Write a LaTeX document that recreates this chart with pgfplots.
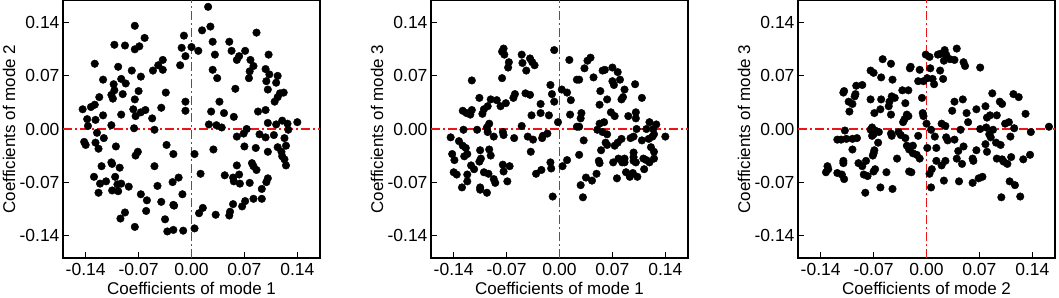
\documentclass[border=0pt]{standalone}
\usepackage{fontspec}
\setmainfont{Liberation Sans}
\usepackage{pgfplots}
\pgfplotsset{compat=1.18}
\definecolor{refred}{RGB}{235,20,25}

\pgfplotsset{
  modeaxis/.style={
    anchor=south west,
    width=257pt, height=258pt, scale only axis,
    xmin=-0.17, xmax=0.17, ymin=-0.17, ymax=0.17,
    xtick={-0.14,-0.07,0,0.07,0.14},
    ytick={-0.14,-0.07,0,0.07,0.14},
    xticklabels={-0.14,-0.07,0.00,0.07,0.14},
    yticklabels={-0.14,-0.07,0.00,0.07,0.14},
    tick align=inside, xtick pos=bottom, ytick pos=left,
    major tick length=6pt,
    tick style={black, line width=1pt},
    axis line style={black, line width=1.2pt},
    tick label style={font=\fontsize{17.5}{17.5}\selectfont},
    xticklabel style={yshift=-2pt},
    label style={font=\fontsize{17}{17}\selectfont},
    xlabel style={at={(axis description cs:0.5,0)}, anchor=north, inner sep=0pt, yshift=-24pt},
    ylabel style={at={(axis description cs:0,0.5)}, anchor=center, yshift=54pt},
    clip=false,
  },
  zeroline/.style={draw=refred, no marks, sharp plot, forget plot, line width=1.3pt,
    dash pattern=on 9pt off 3pt on 2pt off 3pt},
  pts/.style={only marks, mark=*, mark size=3.8pt, draw=black, fill=black, mark options={draw=black, fill=black}},
}

\begin{document}
\begin{tikzpicture}
\useasboundingbox (0,0) rectangle (1059pt,297pt);

% mode 1 vs mode 2
\begin{axis}[modeaxis, at={(63pt,39pt)},
  xlabel={Coefficients of mode 1}, ylabel={Coefficients of mode 2}]
\addplot[zeroline] coordinates {(-0.17,0) (0.17,0)};
\addplot[zeroline] coordinates {(0,-0.17) (0,0.17)};
\addplot[pts] coordinates {
(-0.075,0.136) (-0.102,0.111) (-0.088,0.110) (-0.075,0.105) (-0.069,0.109) (-0.062,0.120)
(-0.128,0.086) (-0.097,0.082) (-0.079,0.077) (-0.067,0.069) (-0.117,0.065) (-0.093,0.066)
(-0.103,0.059) (-0.087,0.060) (-0.051,0.077) (-0.044,0.084) (-0.038,0.078) (-0.038,0.091)
(-0.034,0.048) (-0.010,0.123) (-0.013,0.107) (-0.008,0.096) (-0.015,0.084) (-0.008,0.036)
(-0.008,0.024) (-0.070,0.050) (-0.075,0.039) (-0.091,0.046) (-0.106,0.045) (-0.104,0.040)
(-0.102,0.051) (-0.122,0.042) (-0.128,0.032) (-0.133,0.029) (-0.144,0.026) (-0.138,0.013)
(-0.127,0.012) (-0.117,0.018) (-0.093,0.019) (-0.077,0.026) (-0.074,0.017) (-0.067,0.022)
(-0.061,0.025) (-0.052,0.014) (-0.040,0.028) (-0.137,0.004) (-0.106,0.005) (-0.076,0.001)
(-0.049,-0.001)
(0.022,0.161) (0.025,0.135) (0.014,0.130) (0.086,0.127) (0.028,0.115) (0.050,0.115)
(0.000,0.108) (0.009,0.103) (0.053,0.103) (0.071,0.103) (0.031,0.098) (0.063,0.096)
(0.060,0.091) (0.102,0.098) (0.078,0.091) (0.082,0.083) (0.077,0.076) (0.098,0.079)
(0.076,0.067) (0.028,0.078) (0.103,0.072) (0.114,0.070) (0.034,0.067) (0.099,0.063)
(0.112,0.061) (0.058,0.053) (0.101,0.052) (0.122,0.048) (0.117,0.047) (0.114,0.042)
(0.110,0.036) (0.037,0.036) (0.026,0.023) (0.043,0.021) (0.088,0.023) (0.098,0.025)
(0.056,0.016) (0.101,0.008) (0.112,0.006) (0.120,0.011) (0.127,0.007) (0.140,0.009)
(0.023,0.006) (0.033,0.005) (0.040,0.002) (0.073,0.000)
(-0.125,-0.005) (-0.142,-0.017) (-0.140,-0.021) (-0.127,-0.018) (-0.123,-0.026) (-0.116,-0.012)
(-0.100,-0.023) (-0.074,-0.035) (-0.071,-0.030) (-0.033,-0.021) (-0.024,-0.033) (-0.119,-0.049)
(-0.106,-0.044) (-0.105,-0.046) (-0.095,-0.051) (-0.049,-0.049) (-0.129,-0.063) (-0.113,-0.069)
(-0.121,-0.072) (-0.101,-0.063) (-0.098,-0.073) (-0.093,-0.072) (-0.123,-0.084) (-0.105,-0.081)
(-0.097,-0.082) (-0.083,-0.076) (-0.045,-0.075) (-0.025,-0.070) (-0.017,-0.064) (-0.067,-0.086)
(-0.059,-0.094) (-0.040,-0.096) (-0.024,-0.100) (-0.023,-0.101) (-0.012,-0.086) (-0.060,-0.108)
(-0.088,-0.110) (-0.094,-0.118) (-0.075,-0.129) (-0.035,-0.119) (-0.032,-0.135) (-0.024,-0.133)
(-0.011,-0.134)
(0.060,-0.010) (0.069,-0.006) (0.090,-0.007) (0.098,-0.011) (0.109,-0.008) (0.123,-0.012)
(0.128,-0.001) (0.004,-0.033) (0.029,-0.027) (0.070,-0.023) (0.085,-0.025) (0.101,-0.030)
(0.114,-0.024) (0.119,-0.030) (0.125,-0.022) (0.120,-0.036) (0.123,-0.040) (0.125,-0.048)
(0.060,-0.048) (0.080,-0.045) (0.082,-0.049) (0.086,-0.054) (0.012,-0.059) (0.044,-0.061)
(0.055,-0.064) (0.056,-0.069) (0.063,-0.060) (0.064,-0.072) (0.077,-0.071) (0.101,-0.065)
(0.099,-0.070) (0.093,-0.079) (0.071,-0.095) (0.082,-0.092) (0.093,-0.092) (0.055,-0.099)
(0.067,-0.102) (0.015,-0.104) (0.010,-0.111) (0.032,-0.113) (0.051,-0.109) (0.050,-0.114)
(0.004,-0.131)
};
\end{axis}

% mode 1 vs mode 3
\begin{axis}[modeaxis, at={(431pt,39pt)},
  xlabel={Coefficients of mode 1}, ylabel={Coefficients of mode 3}]
\addplot[zeroline] coordinates {(-0.17,0) (0.17,0)};
\addplot[zeroline] coordinates {(0,-0.17) (0,0.17)};
\addplot[pts] coordinates {
(-0.074,0.106) (-0.076,0.102) (-0.073,0.098) (-0.050,0.098) (-0.049,0.087) (-0.044,0.077)
(-0.039,0.093) (-0.036,0.088) (-0.033,0.084) (-0.067,0.088) (-0.068,0.081) (-0.007,0.104)
(-0.116,0.064) (-0.076,0.067) (-0.012,0.058) (-0.010,0.046) (-0.007,0.036) (-0.106,0.041)
(-0.091,0.039) (-0.083,0.038) (-0.078,0.030) (-0.071,0.034) (-0.061,0.041) (-0.059,0.046)
(-0.045,0.047) (-0.039,0.045) (-0.100,0.026) (-0.095,0.030) (-0.128,0.024) (-0.123,0.021)
(-0.118,0.019) (-0.116,0.025) (-0.102,0.020) (-0.037,0.018) (-0.025,0.033) (-0.025,0.021)
(-0.014,0.018) (-0.093,0.007) (-0.002,0.009) (-0.050,0.004) (-0.144,-0.011) (-0.127,-0.001)
(-0.109,-0.001) (-0.096,0.002) (-0.095,-0.004) (-0.075,-0.004) (-0.074,-0.008) (-0.087,-0.010)
(-0.060,-0.012) (-0.042,-0.010) (-0.035,-0.014) (-0.022,-0.009) (-0.023,-0.012) (-0.016,-0.006)
(-0.133,-0.016) (-0.128,-0.022) (-0.124,-0.025) (-0.122,-0.033) (-0.126,-0.036) (-0.142,-0.033)
(-0.139,-0.041) (-0.105,-0.028) (-0.104,-0.039) (-0.106,-0.043) (-0.093,-0.027) (-0.091,-0.035)
(-0.038,-0.030) (-0.117,-0.048) (-0.113,-0.053) (-0.140,-0.057) (-0.136,-0.060) (-0.122,-0.060)
(-0.122,-0.069) (-0.100,-0.057) (-0.094,-0.059) (-0.087,-0.066) (-0.085,-0.071) (-0.075,-0.047)
(-0.066,-0.049) (-0.074,-0.056) (-0.069,-0.069) (-0.129,-0.077) (-0.105,-0.077) (-0.105,-0.080)
(-0.096,-0.084) (-0.031,-0.059) (-0.024,-0.054) (-0.012,-0.044) (-0.011,-0.052) (-0.009,-0.089)
(0.013,0.091) (0.037,0.090) (0.041,0.094) (0.033,0.080) (0.045,0.068) (0.023,0.065) (0.026,0.065)
(0.057,0.077) (0.060,0.078) (0.070,0.081) (0.077,0.075) (0.070,0.063) (0.072,0.058) (0.080,0.065)
(0.100,0.059) (0.003,0.052) (0.010,0.048) (0.054,0.050) (0.086,0.052) (0.084,0.042) (0.082,0.039)
(0.109,0.041) (0.015,0.038) (0.053,0.032) (0.063,0.039) (0.014,0.019) (0.029,0.021) (0.028,0.014)
(0.068,0.022) (0.073,0.017) (0.091,0.017) (0.101,0.022) (0.101,0.014) (0.023,0.003)
(0.026,0.003) (0.053,0.007) (0.059,0.009) (0.050,-0.001) (0.057,-0.004) (0.119,0.009) (0.128,0.006)
(0.115,0.000) (0.124,0.000) (0.063,-0.007) (0.061,-0.018) (0.063,-0.021) (0.055,-0.028) (0.032,-0.015)
(0.073,-0.022) (0.077,-0.018) (0.082,-0.013) (0.094,-0.012) (0.098,-0.010) (0.102,0.000) (0.109,-0.015)
(0.118,-0.013) (0.123,-0.010) (0.125,-0.007) (0.140,-0.010) (0.098,-0.031) (0.098,-0.037) (0.098,-0.042)
(0.101,-0.044) (0.086,-0.039) (0.086,-0.044) (0.083,-0.044) (0.078,-0.039) (0.071,-0.044) (0.111,-0.039)
(0.115,-0.041) (0.119,-0.044) (0.125,-0.039) (0.121,-0.024) (0.125,-0.030) (0.026,-0.034) (0.010,-0.041)
(0.004,-0.049) (0.052,-0.042) (0.053,-0.045) (0.049,-0.059) (0.035,-0.064) (0.043,-0.068) (0.076,-0.065)
(0.088,-0.057) (0.097,-0.058) (0.093,-0.063) (0.103,-0.063) (0.112,-0.053) (0.028,-0.074) (0.031,-0.090)
};
\end{axis}

% mode 2 vs mode 3
\begin{axis}[modeaxis, at={(798pt,39pt)},
  xlabel={Coefficients of mode 2}, ylabel={Coefficients of mode 3}]
\addplot[zeroline] coordinates {(-0.17,0) (0.17,0)};
\addplot[zeroline] coordinates {(0,-0.17) (0,0.17)};
\addplot[pts] coordinates {
(-0.058,0.092) (-0.047,0.086) (-0.021,0.082) (-0.022,0.080) (-0.009,0.078) (-0.074,0.077)
(-0.070,0.074) (-0.060,0.068) (-0.045,0.065) (-0.011,0.063) (-0.004,0.063) (-0.093,0.057)
(-0.085,0.058) (-0.109,0.050) (-0.110,0.048) (-0.094,0.046) (-0.095,0.043) (-0.032,0.051)
(-0.024,0.051) (-0.074,0.039) (-0.060,0.039) (-0.046,0.043) (-0.042,0.041) (-0.049,0.036)
(-0.006,0.041) (-0.103,0.036) (-0.098,0.033) (-0.102,0.023) (-0.061,0.026) (-0.069,0.021)
(-0.050,0.030) (-0.028,0.034) (-0.047,0.019) (-0.026,0.019) (-0.024,0.017) (-0.029,0.013)
(-0.005,0.021) (-0.004,0.017) (-0.031,0.009) (-0.108,-0.002) (-0.072,0.002) (-0.074,-0.001)
(-0.068,-0.002) (-0.063,-0.004) (-0.070,-0.007) (-0.072,-0.009) (-0.047,-0.006) (-0.046,-0.009)
(-0.037,-0.004) (-0.034,-0.008) (-0.028,-0.012) (-0.011,-0.009) (-0.118,-0.014) (-0.113,-0.014)
(-0.106,-0.013) (-0.098,-0.013) (-0.092,-0.012) (-0.098,-0.027) (-0.064,-0.018) (-0.026,-0.022)
(-0.023,-0.027) (-0.018,-0.022) (-0.018,-0.032) (-0.013,-0.034) (-0.009,-0.039) (-0.069,-0.028)
(-0.070,-0.032) (-0.071,-0.035) (-0.039,-0.039) (-0.110,-0.042) (-0.110,-0.045) (-0.090,-0.045)
(-0.085,-0.049) (-0.080,-0.042) (-0.131,-0.049) (-0.130,-0.053) (-0.133,-0.057) (-0.118,-0.058)
(-0.112,-0.060) (-0.109,-0.066) (-0.083,-0.060) (-0.078,-0.062) (-0.068,-0.053) (-0.070,-0.056)
(-0.053,-0.057) (-0.023,-0.056) (-0.020,-0.057) (-0.081,-0.084) (-0.061,-0.077) (-0.045,-0.079)
(-0.001,0.098) (0.004,0.095) (0.015,0.098) (0.018,0.099) (0.024,0.104) (0.026,0.098) (0.031,0.092)
(0.023,0.090) (0.037,0.091) (0.040,0.106) (0.049,0.088) (0.051,0.083) (0.071,0.081) (0.005,0.080)
(0.018,0.077) (0.001,0.067) (0.008,0.066) (0.022,0.066) (0.010,0.059) (0.037,0.036) (0.048,0.039)
(0.034,0.024) (0.053,0.021) (0.066,0.026) (0.078,0.030) (0.080,0.015) (0.084,0.018) (0.093,0.018)
(0.087,0.047) (0.097,0.036) (0.100,0.033) (0.115,0.046) (0.122,0.042) (0.131,0.020) (0.000,0.007)
(0.020,0.007) (0.025,0.004) (0.055,0.009) (0.045,-0.001) (0.006,-0.001) (0.071,0.000) (0.079,0.002)
(0.104,0.007) (0.109,0.009) (0.116,0.001) (0.088,-0.001) (0.083,-0.007) (0.085,-0.011) (0.138,-0.004)
(0.162,0.003) (0.011,-0.010) (0.026,-0.011) (0.028,-0.015) (0.037,-0.014) (0.111,-0.010) (0.078,-0.020)
(0.092,-0.018) (0.098,-0.021) (0.001,-0.025) (0.013,-0.025) (0.049,-0.023) (0.042,-0.029) (0.066,-0.028)
(0.080,-0.030) (0.013,-0.042) (0.025,-0.042) (0.020,-0.048) (0.040,-0.039) (0.047,-0.046) (0.061,-0.039)
(0.062,-0.042) (0.093,-0.039) (0.100,-0.040) (0.102,-0.043) (0.107,-0.046) (0.112,-0.037) (0.128,-0.040)
(0.137,-0.034) (0.007,-0.053) (0.004,-0.059) (0.023,-0.068) (0.043,-0.069) (0.061,-0.071) (0.069,-0.065)
(0.074,-0.063) (0.110,-0.069) (0.117,-0.074) (0.006,-0.077) (0.099,-0.090) (0.124,-0.089)
};
\end{axis}
\end{tikzpicture}
\end{document}
